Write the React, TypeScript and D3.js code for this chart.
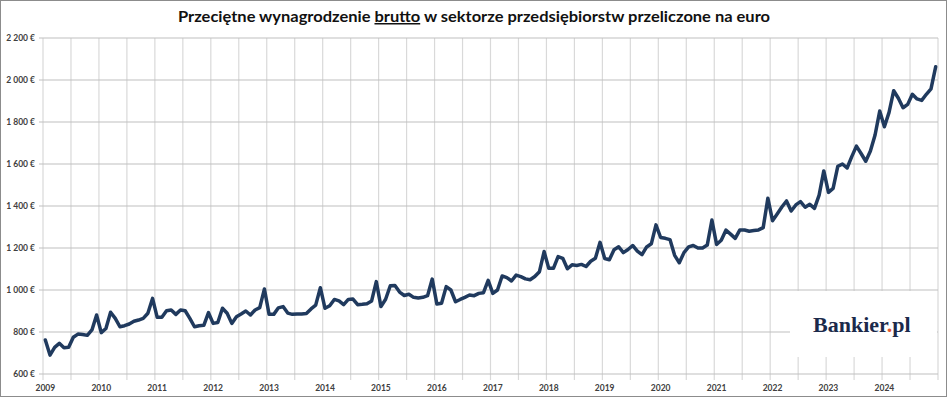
import { useRef, useEffect } from 'react';
import * as d3 from 'd3';

// average gross wage in the enterprise sector, converted to EUR (monthly)
const wages2009 = [762, 690, 727, 746, 725, 727, 775, 790, 788, 784, 810, 881];
const wages2010 = [797, 817, 894, 865, 825, 830, 838, 851, 857, 865, 889, 960];
const wages2011 = [870, 870, 901, 905, 884, 905, 901, 865, 825, 830, 832, 892];
const wages2012 = [841, 845, 913, 889, 841, 873, 886, 900, 881, 905, 916, 1005];
const wages2013 = [884, 884, 915, 921, 890, 884, 886, 886, 888, 910, 928, 1011];
const wages2014 = [913, 925, 955, 948, 930, 955, 957, 930, 932, 935, 948, 1040];
const wages2015 = [921, 956, 1020, 1021, 990, 974, 980, 965, 962, 965, 973, 1052];
const wages2016 = [933, 937, 1016, 1000, 944, 955, 965, 976, 973, 984, 987, 1046];
const wages2017 = [984, 1000, 1067, 1059, 1043, 1071, 1064, 1053, 1049, 1064, 1087, 1183];
const wages2018 = [1103, 1103, 1159, 1151, 1101, 1120, 1117, 1122, 1112, 1137, 1151, 1227];
const wages2019 = [1150, 1144, 1192, 1206, 1178, 1193, 1212, 1185, 1168, 1205, 1220, 1310];
const wages2020 = [1250, 1246, 1240, 1165, 1130, 1178, 1205, 1212, 1200, 1200, 1214, 1333];
const wages2021 = [1217, 1237, 1285, 1266, 1246, 1286, 1286, 1280, 1283, 1286, 1297, 1437];
const wages2022 = [1330, 1362, 1395, 1424, 1376, 1405, 1421, 1394, 1408, 1389, 1452, 1567];
const wages2023 = [1465, 1484, 1589, 1600, 1581, 1635, 1685, 1650, 1613, 1662, 1738, 1852];
const wages2024 = [1777, 1846, 1949, 1913, 1868, 1884, 1932, 1910, 1903, 1932, 1958, 2063];

const wages = [
  ...wages2009, ...wages2010, ...wages2011, ...wages2012,
  ...wages2013, ...wages2014, ...wages2015, ...wages2016,
  ...wages2017, ...wages2018, ...wages2019, ...wages2020,
  ...wages2021, ...wages2022, ...wages2023, ...wages2024,
];

const yearLabels = ['2009', '2010', '2011', '2012', '2013', '2014', '2015', '2016',
  '2017', '2018', '2019', '2020', '2021', '2022', '2023', '2024'];
const yTicks = [600, 800, 1000, 1200, 1400, 1600, 1800, 2000, 2200];

const WageChart = () => {
  const ref = useRef(null);

  useEffect(() => {
    if (!ref.current) return;
    const svg = d3.select(ref.current);
    svg.selectAll('*').remove();

    const width = 948;
    const height = 398;
    const plot = { left: 43, right: 938, top: 38, bottom: 374 };

    const x = d3.scaleBand<number>()
      .domain(d3.range(wages.length))
      .range([plot.left, plot.right])
      .padding(0);
    const cx = (i: number) => (x(i) as number) + x.bandwidth() / 2;
    const y = d3.scaleLinear().domain([600, 2200]).range([plot.bottom, plot.top]);

    svg.append('rect')
      .attr('width', width)
      .attr('height', height)
      .style('fill', '#fff');

    // vertical grid, every half year
    const vLines = d3.range(0, wages.length, 6).map(i => x(i) as number).concat([plot.right]);
    svg.append('g')
      .selectAll('line')
      .data(vLines)
      .join('line')
      .attr('x1', d => d)
      .attr('x2', d => d)
      .attr('y1', plot.top)
      .attr('y2', plot.bottom + 6)
      .style('stroke', '#d9d9d9')
      .style('stroke-width', 1.2);

    svg.append('g')
      .selectAll('line')
      .data(yTicks)
      .join('line')
      .attr('x1', plot.left - 4)
      .attr('x2', plot.right)
      .attr('y1', d => y(d))
      .attr('y2', d => y(d))
      .style('stroke', '#bfbfbf')
      .style('stroke-width', 1.2);

    const fmt = (v: number) => d3.format(',')(v).replace(/,/g, ' ') + ' €';
    svg.append('g')
      .selectAll('text')
      .data(yTicks)
      .join('text')
      .attr('x', 35)
      .attr('y', d => y(d) + 3)
      .attr('text-anchor', 'end')
      .style('font-family', 'Lato, sans-serif')
      .style('font-size', '8.5px')
      .style('font-weight', 'bold')
      .style('fill', '#404040')
      .text(d => fmt(d));

    svg.append('g')
      .selectAll('text')
      .data(yearLabels)
      .join('text')
      .attr('x', (d, i) => cx(i * 12))
      .attr('y', 391)
      .attr('text-anchor', 'middle')
      .style('font-family', 'Lato, sans-serif')
      .style('font-size', '8.5px')
      .style('font-weight', 'bold')
      .style('fill', '#404040')
      .text(d => d);

    // logo backdrop hides the grid
    svg.append('rect')
      .attr('x', 790)
      .attr('y', 291)
      .attr('width', 147)
      .attr('height', 66)
      .style('fill', '#fff');

    const logo = svg.append('text')
      .attr('x', 813)
      .attr('y', 332)
      .style('font-family', '"Liberation Serif", serif')
      .style('font-size', '22px')
      .style('font-weight', 'bold')
      .style('fill', '#1b2a4b');
    logo.append('tspan').text('Bankier');
    logo.append('tspan').style('fill', '#e4572e').text('.');
    logo.append('tspan').text('pl');

    const line = d3.line<number>()
      .x((d, i) => cx(i))
      .y(d => y(d));

    svg.append('path')
      .datum(wages)
      .attr('d', line)
      .style('fill', 'none')
      .style('stroke', '#203a5e')
      .style('stroke-width', 3.5)
      .style('stroke-linejoin', 'round')
      .style('stroke-linecap', 'round');

    const title = svg.append('text')
      .attr('x', 474)
      .attr('y', 22)
      .attr('text-anchor', 'middle')
      .attr('textLength', 592)
      .attr('lengthAdjust', 'spacingAndGlyphs')
      .style('font-family', 'Lato, sans-serif')
      .style('font-size', '15px')
      .style('font-weight', 'bold')
      .style('fill', '#111');
    title.append('tspan').text('Przeciętne wynagrodzenie ');
    title.append('tspan').style('text-decoration', 'underline').text('brutto');
    title.append('tspan').text(' w sektorze przedsiębiorstw przeliczone na euro');

    svg.append('rect')
      .attr('x', 0.5)
      .attr('y', 0.5)
      .attr('width', 946)
      .attr('height', 396)
      .style('fill', 'none')
      .style('stroke', '#8c8c8c');
  }, []);

  return (
    <svg
      ref={ref}
      width={948}
      height={398}
      style={{ position: 'absolute', left: 0, top: 0 }}
    />
  );
};

export default function App() {
  return <WageChart />;
}
